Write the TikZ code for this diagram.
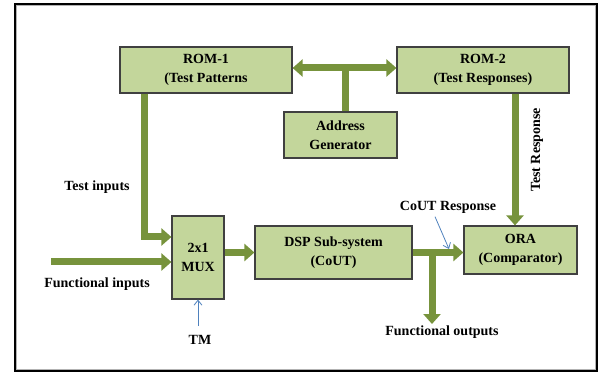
\documentclass[tikz,border=0pt]{standalone}
\usepackage{fontspec}
\setmainfont{Liberation Serif}
\usetikzlibrary{arrows.meta}

\definecolor{boxGreen}{HTML}{C3D69B}
\definecolor{pathGreen}{HTML}{77933C}
\definecolor{hintBlue}{HTML}{4F81BD}

\begin{document}
\begin{tikzpicture}[x=1pt,y=-1pt,
    font=\fontsize{14}{19}\selectfont\bfseries,
    blk/.style={draw=black!75,line width=1.2pt,fill=boxGreen,align=center,inner sep=0pt},
    bus/.style={draw=pathGreen,line width=7pt},
    busarrow/.style={bus,-{Triangle[length=10pt,width=17pt]}},
    hint/.style={draw=hintBlue,line width=0.8pt,-{Straight Barb[length=5pt,width=8pt]}}]%
  \useasboundingbox (0,0) rectangle (600,374);
  % frame
  \draw[gray!60,line width=1.5pt] (16.5,5.5) rectangle (595.5,369.5);
  \draw[line width=2pt] (15,4) rectangle (597,371);
  % blocks
  \node[blk,minimum width=172pt,minimum height=46pt] (rom1) at (206,70) {ROM-1\\(Test Patterns};
  \node[blk,minimum width=172pt,minimum height=46pt] (rom2) at (483,70) {ROM-2\\(Test Responses)};
  \node[blk,minimum width=113pt,minimum height=46pt] (addr) at (340.5,135) {Address\\Generator};
  \node[blk,minimum width=52pt,minimum height=83pt] (mux) at (198,257.5) {2x1\\MUX};
  \node[blk,minimum width=157pt,minimum height=53pt] (dsp) at (333.5,252.5) {DSP Sub-system\\(CoUT)};
  \node[blk,minimum width=113pt,minimum height=48pt] (ora) at (520.5,250) {ORA\\(Comparator)};
  % free ends and labels
  \coordinate (fin) at (51,262);
  \coordinate (tm) at (198,326);
  \coordinate (fork) at (432,252.5);
  \coordinate (fout) at (432,324);
  \coordinate (cresp) at (449,249);
  \node (tilabel) at (97,187) {Test inputs};
  \node (filabel) at (97,284) {Functional inputs};
  \node (tmlabel) at (200,340) {TM};
  \node (folabel) at (442,332) {Functional outputs};
  \node (crlabel) at (448,207) {CoUT Response};
  \node[rotate=90] (trlabel) at (537,150) {Test Response};
  % buses
  \draw[bus,{Triangle[length=10pt,width=17pt]}-{Triangle[length=10pt,width=17pt]}]
    ([yshift=2pt]rom1.east) -- ([yshift=2pt]rom2.west);
  \draw[bus] ([xshift=4.5pt]addr.north) -- ([xshift=4.5pt,yshift=2pt]addr.north |- rom1.east);
  \draw[busarrow] ([xshift=-62pt]rom1.south) |- ([yshift=20.5pt]mux.west);
  \draw[busarrow] (fin) -- (mux.west |- fin);
  \draw[busarrow] (mux.east |- dsp.west) -- (dsp.west);
  \draw[busarrow] (dsp.east) -- (dsp.east -| ora.west);
  \draw[busarrow] (fork) -- (fout);
  \draw[busarrow] ([xshift=32pt]rom2.south) -- ([xshift=32pt]rom2.south |- ora.north);
  % thin pointers
  \draw[hint] (tm) -- (mux.south);
  \draw[hint] ([xshift=-13pt]crlabel.south) -- (cresp);
\end{tikzpicture}
\end{document}
